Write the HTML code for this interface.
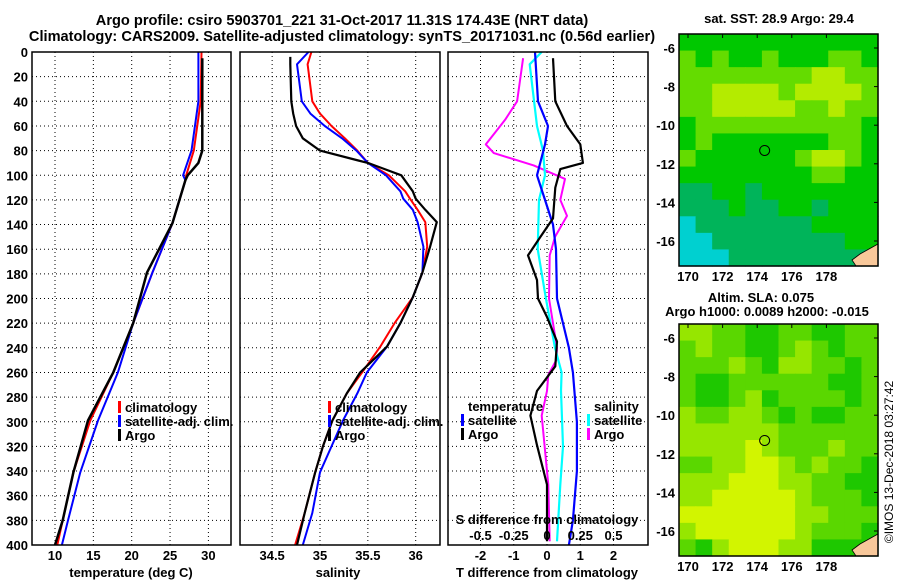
<!DOCTYPE html>
<html><head><meta charset="utf-8"><style>
html,body{margin:0;padding:0;background:#fff;}
svg text{font-family:"Liberation Sans",sans-serif;font-weight:bold;font-size:13px;fill:#000;}
</style></head><body>
<svg id="fig" width="900" height="580" viewBox="0 0 900 580" xmlns="http://www.w3.org/2000/svg">
<text x="342" y="25" text-anchor="middle" style="font-size:14.6px">Argo profile: csiro 5903701_221 31-Oct-2017 11.31S 174.43E (NRT data)</text>
<text x="342" y="41" text-anchor="middle" style="font-size:14.6px">Climatology: CARS2009. Satellite-adjusted climatology: synTS_20171031.nc (0.56d earlier)</text>
<text x="779" y="23" text-anchor="middle">sat. SST: 28.9 Argo: 29.4</text>
<text x="761" y="302" text-anchor="middle">Altim. SLA: 0.075</text>
<text x="767" y="316" text-anchor="middle">Argo h1000: 0.0089 h2000: -0.015</text>
<text x="0" y="0" transform="translate(893,462) rotate(-90)" text-anchor="middle" style="font-weight:normal;font-size:12px">©IMOS 13-Dec-2018 03:27:42</text>
<g id="plots"></g>
</svg>
<script>
// ---------- data ----------
const depthTicks = [0,20,40,60,80,100,120,140,160,180,200,220,240,260,280,300,320,340,360,380,400];
const tempTicks = [10,15,20,25,30];
const salTicks = [34.5,35,35.5,36];
const tdiffTicks = [-2,-1,0,1,2];
const sdiffTicks = [-0.5,-0.25,0,0.25,0.5];
const sdiffTickLabels = ["-0.5","-0.25","0","0.25","0.5"];

const tClimDepth = [0,40,80,100,104,139,179,220,260,299,341,380,400];
const tClim = [29.1,29.0,28.1,27.1,27.0,25.3,22.7,20.2,17.6,14.6,12.4,11.0,10.3];
const tSatDepth = [0,40,80,100,104,139,179,220,260,299,341,380,400];
const tSat = [28.7,28.7,27.8,26.7,27.0,25.3,22.7,20.2,18.2,15.6,13.3,11.7,10.9];
const tArgoDepth = [5,40,80,90,100,104,139,179,220,260,299,341,380,400];
const tArgo = [29.2,29.2,29.2,28.7,27.3,27.0,25.3,22.0,20.2,17.6,14.3,12.4,11.0,10.0];

const sDepth = [0,10,40,50,60,70,80,90,100,113,119,128,138,158,179,199,220,239,260,277,299,320,341,374,400];
const sClim = [34.91,34.87,34.92,35.0,35.12,35.26,35.39,35.5,35.72,35.89,35.94,36.02,36.1,36.12,36.07,35.97,35.78,35.63,35.44,35.28,35.13,35.03,34.95,34.84,34.74];
const sSat = [34.88,34.76,34.81,34.9,35.05,35.23,35.38,35.5,35.69,35.84,35.87,35.97,36.02,36.08,36.07,35.97,35.84,35.7,35.49,35.39,35.24,35.12,35.0,34.92,34.82];
const sArgoDepth = [4,10,40,50,60,70,80,88,90,100,113,119,128,138,158,179,199,220,239,260,277,299,320,341,374,400];
const sArgo = [34.69,34.69,34.7,34.72,34.75,34.82,35.0,35.4,35.5,35.85,35.97,36.0,36.1,36.22,36.15,36.07,35.97,35.84,35.7,35.42,35.28,35.13,35.03,34.95,34.84,34.76];

const dTArgoDepth = [5,40,60,75,90,95,110,135,150,165,185,200,215,235,255,275,295,319,351,397];
const dTArgo = [0.18,0.25,0.6,1.0,1.08,0.4,0.25,0.18,-0.2,-0.57,-0.3,-0.27,0,0.3,0.25,-0.3,-0.5,-0.3,0,0];
const dTSatDepth = [0,40,60,75,100,120,140,160,200,240,260,300,340,380,400];
const dTSat = [-0.36,-0.27,0.03,-0.06,-0.3,-0.06,0.18,0.27,0.3,0.66,0.78,0.9,0.9,0.78,0.66];
const dSSatDepth = [0,10,60,80,100,120,160,200,240,260,275,320,351,397];
const dSSat = [-0.04,-0.13,-0.075,-0.03,-0.015,-0.06,-0.07,-0.008,0.06,0.11,0.105,0.12,0.1,0.075];
const dSArgoDepth = [5,40,55,75,82,92,103,120,133,150,165,200,240,250,262,275,295,351,397];
const dSArgo = [-0.18,-0.225,-0.315,-0.46,-0.4,-0.1,0.135,0.1,0.15,0.06,0.02,0.015,0.075,0.07,0.01,0,-0.04,0.01,0.02];

const lonTicks = [170,172,174,176,178];
const latTicks = [-6,-8,-10,-12,-14,-16];
const argoLon = 174.43, argoLat = -11.31;
const sstGrid = [
"222222222222","323223222332","333333334433","334444344443","334444433433","233333333332",
"232222222332","322222234432","222222223322","112212222222","111211221222","011111112222",
"001111111122","000111111111"];
const slaGrid = [
"332211221122","232211232122","222321332212","211222222112","211231222212","322332121122",
"333333222222","333343222322","223344323221","333444332211","334444432221","444444433222",
"344444432221","213444331111"];

// ---------- helpers ----------
const NS = "http://www.w3.org/2000/svg";
const root = document.getElementById('plots');
function mk(tag, attrs, parent){ const e=document.createElementNS(NS,tag); for(const k in attrs) e.setAttribute(k,attrs[k]); (parent||root).appendChild(e); return e; }
const Y0=52, Y1=545;
const yD = d => Y0 + d*(Y1-Y0)/400;

function panel(x0,x1,name){
  const g = mk('g',{});
  
  
  return g;
}
function frame(g,x0,x1,name){
  const r = mk('rect',{x:x0,y:Y0,width:x1-x0,height:Y1-Y0,fill:'none',stroke:'#000','stroke-width':1.5},g);
  
  
}
function hgrid(g,x0,x1,name){
  depthTicks.forEach(d=>{
    if(d===0||d===400) return;
    const l = mk('line',{x1:x0,x2:x1,y1:yD(d),y2:yD(d),stroke:'#000','stroke-width':1,'stroke-dasharray':'1,3'},g);
    
    
  });
}
function vgrid(g,xs,name){
  xs.forEach(x=>{
    const l = mk('line',{x1:x,x2:x,y1:Y0,y2:Y1,stroke:'#000','stroke-width':1,'stroke-dasharray':'1,3'},g);
    
    
  });
}
function line(g,xs,ds,xf,color,w,name){
  const pts = xs.map((v,i)=>xf(v).toFixed(1)+','+yD(ds[i]).toFixed(1)).join(' ');
  const p = mk('polyline',{points:pts,fill:'none',stroke:color,'stroke-width':w,'stroke-linejoin':'round'},g);
  
  
}
function txt(g,x,y,s,anchor,name,extra){
  const t = mk('text',Object.assign({x:x,y:y,'text-anchor':anchor||'start'},extra||{}),g);
  t.textContent = s;
  
  
  return t;
}
function legendEntry(g,x,y,color,label,name){
  const r = mk('rect',{x:x,y:y-11,width:3,height:12,fill:color},g);
  
  
  txt(g,x+7,y,label,'start',name);
}

// ---------- panel 1: temperature ----------
const xT = v => 55 + (v-10)*7.67;
const g1 = panel(32,231,'temperature-panel');
hgrid(g1,32,231,'temp'); vgrid(g1,tempTicks.map(xT),'temp');
line(g1,tClim,tClimDepth,xT,'#f00',2,'temp-climatology-line');
line(g1,tSat,tSatDepth,xT,'#00f',2,'temp-satellite-line');
line(g1,tArgo,tArgoDepth,xT,'#000',2.5,'temp-argo-line');
frame(g1,32,231,'temp');
depthTicks.forEach(d=>txt(g1,28,yD(d)+5,String(d),'end','depth-tick-label'));
tempTicks.forEach(v=>txt(g1,xT(v),560,String(v),'middle','temp-tick-label'));
txt(g1,131,577,'temperature (deg C)','middle','temp-axis-title');
legendEntry(g1,118,412,'#f00','climatology','temp-legend-climatology');
legendEntry(g1,118,426,'#00f','satellite-adj. clim.','temp-legend-satellite');
legendEntry(g1,118,440,'#000','Argo','temp-legend-argo');

// ---------- panel 2: salinity ----------
const xS = v => 320 + (v-35)*95.7;
const g2 = panel(240,440,'salinity-panel');
hgrid(g2,240,440,'sal'); vgrid(g2,salTicks.map(xS),'sal');
line(g2,sClim,sDepth,xS,'#f00',2,'sal-climatology-line');
line(g2,sSat,sDepth,xS,'#00f',2,'sal-satellite-line');
line(g2,sArgo,sArgoDepth,xS,'#000',2.2,'sal-argo-line');
frame(g2,240,440,'sal');
salTicks.forEach(v=>txt(g2,xS(v),560,String(v),'middle','sal-tick-label'));
txt(g2,338,577,'salinity','middle','sal-axis-title');
legendEntry(g2,328,412,'#f00','climatology','sal-legend-climatology');
legendEntry(g2,328,426,'#00f','satellite-adj. clim.','sal-legend-satellite');
legendEntry(g2,328,440,'#000','Argo','sal-legend-argo');

// ---------- panel 3: differences ----------
const xDT = v => 547 + v*33.25;
const xDS = v => 547 + v*133;
const g3 = panel(448,648,'difference-panel');
hgrid(g3,448,648,'diff'); vgrid(g3,tdiffTicks.map(xDT),'diff');
line(g3,dSArgo,dSArgoDepth,xDS,'#f0f',2,'sdiff-argo-line');
line(g3,dSSat,dSSatDepth,xDS,'#0ff',2.2,'sdiff-satellite-line');
line(g3,dTSat,dTSatDepth,xDT,'#00f',2.2,'tdiff-satellite-line');
line(g3,dTArgo,dTArgoDepth,xDT,'#000',2.2,'tdiff-argo-line');
frame(g3,448,648,'diff');
tdiffTicks.forEach(v=>txt(g3,xDT(v),560,String(v),'middle','tdiff-tick-label'));
txt(g3,547,577,'T difference from climatology','middle','tdiff-axis-title');
sdiffTicks.forEach((v,i)=>txt(g3,xDS(v),540,sdiffTickLabels[i],'middle','sdiff-tick-label'));
txt(g3,547,524,'S difference from climatology','middle','sdiff-axis-title');
txt(g3,468,411,'temperature','start','diff-legend-temperature-header');
legendEntry(g3,461,425,'#00f','satellite','diff-legend-temp-satellite');
legendEntry(g3,461,439,'#000','Argo','diff-legend-temp-argo');
txt(g3,594,411,'salinity','start','diff-legend-salinity-header');
legendEntry(g3,587,425,'#0ff','satellite','diff-legend-sal-satellite');
legendEntry(g3,587,439,'#f0f','Argo','diff-legend-sal-argo');

// ---------- maps ----------
const sstColors = ['#00d0d0','#00b45a','#00c800','#64dc00','#b4eb00'];
const slaColors = ['#00c800','#1ec800','#5ad700','#96e600','#d2f500'];
function drawMap(name,grid,colors,mx0,my0,mx1,my1,lat6y){
  const g = mk('g',{});
  
  
  const rows = grid.length, cols = grid[0].length;
  const cw=(mx1-mx0)/cols, ch=(my1-my0)/rows;
  grid.forEach((row,r)=>{
    for(let c=0;c<cols;c++){
      const cell = mk('rect',{x:(mx0+c*cw).toFixed(2),y:(my0+r*ch).toFixed(2),width:(cw+0.6).toFixed(2),height:(ch+0.6).toFixed(2),fill:colors[+row[c]]},g);
      
      
    }
  });
  const xL = lon => 688 + (lon-170)*17.3;
  const yL = lat => lat6y + (-6-lat)*19.3;
  const land = mk('path',{d:`M${mx1} ${my1-22} L${mx1-18} ${my1-12} L${mx1-26} ${my1-6} L${mx1-22} ${my1} L${mx1} ${my1} Z`,fill:'#f8c89a',stroke:'#000','stroke-width':0.8},g);
  
  
  const circ = mk('circle',{cx:xL(argoLon),cy:yL(argoLat),r:5,fill:'none',stroke:'#000','stroke-width':1},g);
  
  
  const fr = mk('rect',{x:mx0,y:my0,width:mx1-mx0,height:my1-my0,fill:'none',stroke:'#000','stroke-width':1.5},g);
  
  
  lonTicks.forEach(l=>{
    txt(g,xL(l),my1+15,String(l),'middle',name+'-lon-tick-label');
    const t = mk('line',{x1:xL(l),x2:xL(l),y1:my0,y2:my0+4,stroke:'#000'},g);
    
    
  });
  latTicks.forEach(l=>{
    txt(g,mx0-4,yL(l)+5,String(l),'end',name+'-lat-tick-label');
    const t = mk('line',{x1:mx1-4,x2:mx1,y1:yL(l),y2:yL(l),stroke:'#000'},g);
    
    
  });
}
drawMap('sst-map',sstGrid,sstColors,679,34,878,266,48);
drawMap('sla-map',slaGrid,slaColors,679,324,878,556,338);
</script>
</body></html>
